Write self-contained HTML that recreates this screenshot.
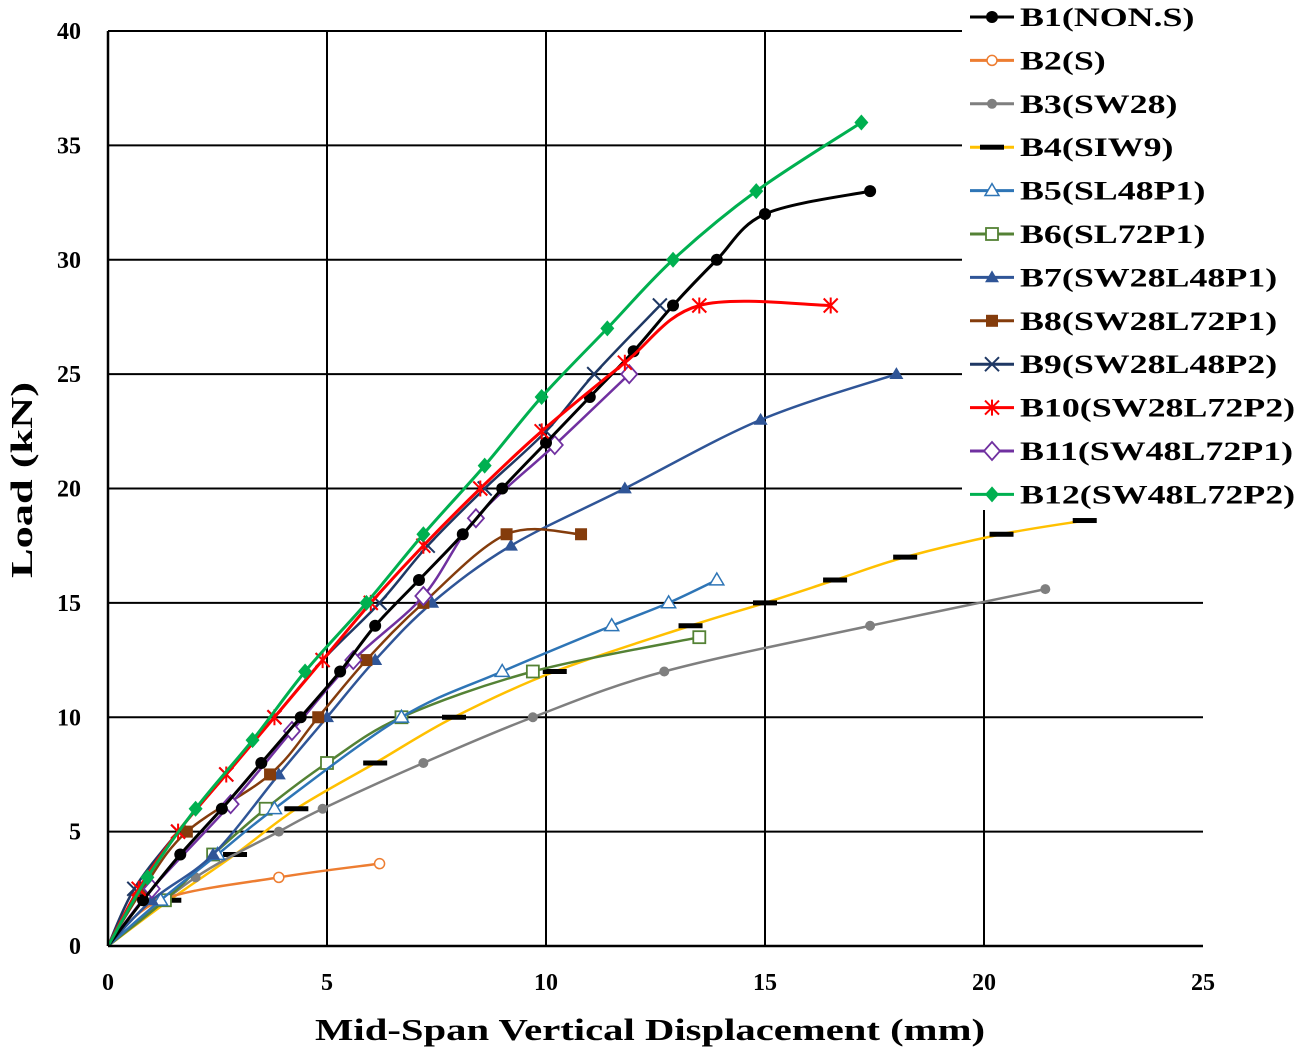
<!DOCTYPE html>
<html><head><meta charset="utf-8"><style>
body{margin:0;background:#fff;}
svg{display:block;font-family:"Liberation Serif",serif;font-weight:bold;}
</style></head><body>
<svg id="chart" width="1300" height="1055" viewBox="0 0 1300 1055" xmlns="http://www.w3.org/2000/svg">
<g id="grid"></g>
<g id="series"></g>
<g id="axes"></g>
<g id="legend"></g>
<text x="315" y="1040" font-size="31" textLength="670" lengthAdjust="spacingAndGlyphs">Mid-Span Vertical Displacement (mm)</text>
<text transform="translate(32,578) rotate(-90)" font-size="31" textLength="196" lengthAdjust="spacingAndGlyphs">Load (kN)</text>
</svg>
<script>
const xTicks=[0,5,10,15,20,25];
const yTicks=[0,5,10,15,20,25,30,35,40];
const seriesNames=["B1(NON.S)","B2(S)","B3(SW28)","B4(SIW9)","B5(SL48P1)","B6(SL72P1)","B7(SW28L48P1)","B8(SW28L72P1)","B9(SW28L48P2)","B10(SW28L72P2)","B11(SW48L72P1)","B12(SW48L72P2)"];
const b1x=[0,0.8,1.65,2.6,3.5,4.4,5.3,6.1,7.1,8.1,9.0,10.0,11.0,12.0,12.9,13.9,15.0,17.4];
const b1y=[0,2,4,6,8,10,12,14,16,18,20,22,24,26,28,30,32,33];
const b2x=[0,1.2,3.9,6.2];
const b2y=[0,2,3,3.6];
const b3x=[0,2.0,3.9,4.9,7.2,9.7,12.7,17.4,21.4];
const b3y=[0,3,5,6,8,10,12,14,15.6];
const b4x=[0,1.4,2.9,4.3,6.1,7.9,10.2,13.3,15.0,16.6,18.2,20.4,22.3];
const b4y=[0,2,4,6,8,10,12,14,15,16,17,18,18.6];
const b5x=[0,1.2,2.5,3.8,6.7,9.0,11.5,12.8,13.9];
const b5y=[0,2,4,6,10,12,14,15,16];
const b6x=[0,1.3,2.4,3.6,5.0,6.7,9.7,13.5];
const b6y=[0,2,4,6,8,10,12,13.5];
const b7x=[0,1.0,2.4,3.9,5.0,6.1,7.4,9.2,11.8,14.9,18.0];
const b7y=[0,2,4,7.5,10,12.5,15,17.5,20,23,25];
const b8x=[0,0.8,1.8,3.7,4.8,5.9,7.2,9.1,10.8];
const b8y=[0,2.5,5,7.5,10,12.5,15,18,18];
const b9x=[0,0.6,1.6,2.7,3.8,4.9,6.2,7.3,8.6,10.0,11.1,12.6];
const b9y=[0,2.5,5,7.5,10,12.5,15,17.5,20,22.5,25,28];
const b10x=[0,0.7,1.6,2.7,3.8,4.9,6.0,7.2,8.5,9.9,11.8,13.5,16.5];
const b10y=[0,2.5,5,7.5,10,12.5,15,17.5,20,22.5,25.5,28,28];
const b11x=[0,1.0,2.8,4.2,5.6,7.2,8.4,10.2,11.9];
const b11y=[0,2.5,6.2,9.4,12.5,15.3,18.7,21.9,25];
const b12x=[0,0.9,2.0,3.3,4.5,5.9,7.2,8.6,9.9,11.4,12.9,14.8,17.2];
const b12y=[0,3,6,9,12,15,18,21,24,27,30,33,36];

const X0=108,X1=1203,Y0=946,Y1=31;
const sx=v=>X0+v/25*(X1-X0);
const sy=v=>Y0-v/40*(Y0-Y1);
const NS="http://www.w3.org/2000/svg";
function mk(tag,attrs,parent){const e=document.createElementNS(NS,tag);for(const k in attrs)e.setAttribute(k,attrs[k]);parent.appendChild(e);return e;}

const grid=document.getElementById('grid');
xTicks.forEach(t=>{if(t===0||t===25)return;const l=mk('line',{x1:sx(t),x2:sx(t),y1:Y1,y2:Y0,stroke:'#000','stroke-width':2},grid);

});
yTicks.forEach(t=>{if(t===0)return;const l=mk('line',{x1:X0,x2:X1,y1:sy(t),y2:sy(t),stroke:'#000','stroke-width':2},grid);

});

const axes=document.getElementById('axes');
const xa=mk('line',{x1:X0,x2:X1,y1:Y0,y2:Y0,stroke:'#000','stroke-width':2.5},axes);


const ya=mk('line',{x1:X0,x2:X0,y1:Y1,y2:Y0,stroke:'#000','stroke-width':2.5},axes);


xTicks.forEach(t=>{const e=mk('text',{x:sx(t),y:Y0+44,'text-anchor':'middle','font-size':24},axes);e.textContent=t;

});
yTicks.forEach(t=>{const e=mk('text',{x:81,y:sy(t)+8,'text-anchor':'end','font-size':24},axes);e.textContent=t;

});

function smooth(pts){
  let d=`M${pts[0][0]},${pts[0][1]}`;
  for(let i=0;i<pts.length-1;i++){
    const p0=pts[i-1]||pts[i],p1=pts[i],p2=pts[i+1],p3=pts[i+2]||p2;
    const c1=[p1[0]+(p2[0]-p0[0])/6,p1[1]+(p2[1]-p0[1])/6];
    const c2=[p2[0]-(p3[0]-p1[0])/6,p2[1]-(p3[1]-p1[1])/6];
    d+=` C${c1[0]},${c1[1]} ${c2[0]},${c2[1]} ${p2[0]},${p2[1]}`;
  }
  return d;
}
function marker(type,x,y,color,g){
  const s=7;
  switch(type){
    case 'circle':return mk('circle',{cx:x,cy:y,r:6,fill:color},g);
    case 'ocircle':return mk('circle',{cx:x,cy:y,r:5,fill:'#fff',stroke:color,'stroke-width':1.5},g);
    case 'dot':return mk('circle',{cx:x,cy:y,r:5,fill:color},g);
    case 'dash':return mk('rect',{x:x-12,y:y-2.5,width:24,height:5,fill:'#000'},g);
    case 'otri':return mk('path',{d:`M${x},${y-s}L${x+s},${y+s*0.7}L${x-s},${y+s*0.7}Z`,fill:'#fff',stroke:color,'stroke-width':1.5},g);
    case 'tri':return mk('path',{d:`M${x},${y-s}L${x+s},${y+s*0.7}L${x-s},${y+s*0.7}Z`,fill:color},g);
    case 'osq':return mk('rect',{x:x-6,y:y-6,width:12,height:12,fill:'#fff',stroke:color,'stroke-width':1.8},g);
    case 'sq':return mk('rect',{x:x-6,y:y-6,width:12,height:12,fill:color},g);
    case 'x':return mk('path',{d:`M${x-7},${y-7}L${x+7},${y+7}M${x+7},${y-7}L${x-7},${y+7}`,stroke:color,'stroke-width':2},g);
    case 'star':return mk('path',{d:`M${x-7},${y-7}L${x+7},${y+7}M${x+7},${y-7}L${x-7},${y+7}M${x},${y-8}L${x},${y+8}`,stroke:color,'stroke-width':2},g);
    case 'odia':return mk('path',{d:`M${x},${y-9}L${x+8},${y}L${x},${y+9}L${x-8},${y}Z`,fill:'#fff',stroke:color,'stroke-width':1.8},g);
    case 'dia':return mk('path',{d:`M${x},${y-8}L${x+7},${y}L${x},${y+8}L${x-7},${y}Z`,fill:color},g);
  }
}
const seriesX=[b1x,b2x,b3x,b4x,b5x,b6x,b7x,b8x,b9x,b10x,b11x,b12x];
const seriesY=[b1y,b2y,b3y,b4y,b5y,b6y,b7y,b8y,b9y,b10y,b11y,b12y];
const colors=['#000','#ed7d31','#7f7f7f','#ffc000','#2e75b6','#548235','#2f5597','#843c0c','#1f3864','#ff0000','#7030a0','#00b050'];
const markers=['circle','ocircle','dot','dash','otri','osq','tri','sq','x','star','odia','dia'];
const widths=[3,2.5,2.5,2.5,2.5,2.5,2.5,2.5,2.5,3,2.5,3];
const sg=document.getElementById('series');
const order=[3,2,1,5,4,6,7,8,10,0,9,11];
order.forEach(i=>{
  const g=mk('g',{},sg);
  
  
  const pts=seriesX[i].map((v,j)=>[sx(v),sy(seriesY[i][j])]);
  const p=mk('path',{d:smooth(pts),fill:'none',stroke:colors[i],'stroke-width':widths[i]},g);
  
  
  pts.forEach((q,j)=>{if(j===0)return;const m=marker(markers[i],q[0],q[1],colors[i],g);
    
    });
});
const lg=document.getElementById('legend');
const bg=mk('rect',{x:962,y:0,width:338,height:510,fill:'#fff'},lg);


seriesNames.forEach((n,i)=>{
  const y=17+i*43.4;
  const g=mk('g',{},lg);
  
  
  mk('line',{x1:970,x2:1014,y1:y,y2:y,stroke:colors[i],'stroke-width':3},g);
  marker(markers[i],992,y,colors[i],g);
  const t=mk('text',{x:1020,y:y+9,'font-size':26},g);
  t.textContent=n;
  const w=t.getComputedTextLength();
  t.setAttribute('textLength',Math.min(w*1.38,278));
  t.setAttribute('lengthAdjust','spacingAndGlyphs');
});
</script>
</body></html>
